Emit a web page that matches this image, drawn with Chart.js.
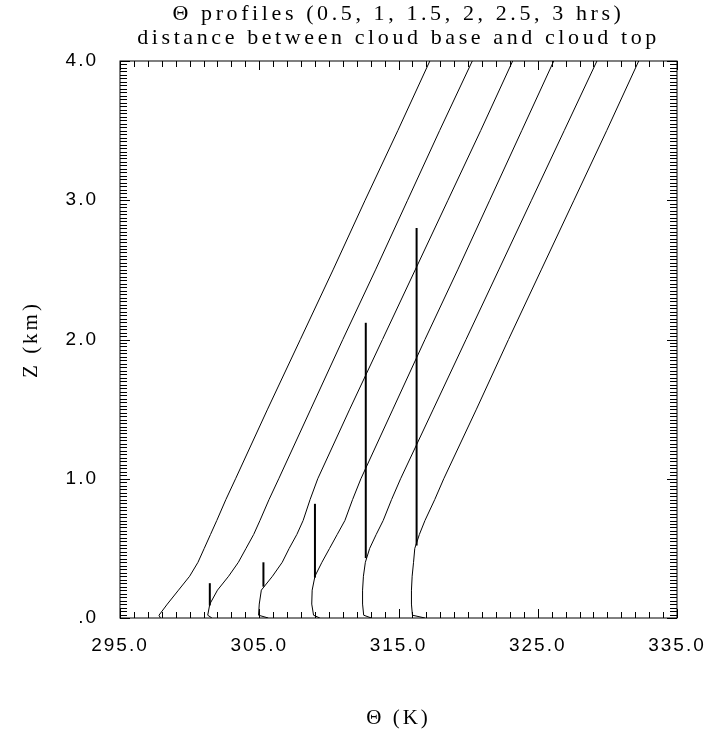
<!DOCTYPE html>
<html>
<head>
<meta charset="utf-8">
<script src="https://cdn.jsdelivr.net/npm/chart.js@4.4.1/dist/chart.umd.min.js"></script>
<style>
  html, body { margin: 0; padding: 0; background: #fff; }
  canvas { display: block; }
</style>
</head>
<body>
<canvas id="thetaChart" width="709" height="733"></canvas>
<script>
// height levels (km) shared by all profiles
var Z_KM = [0, 0.02, 0.1, 0.2, 0.3, 0.4, 0.5, 0.6, 0.7, 0.85, 1.0, 1.5, 2.0, 2.5, 3.0, 3.5, 4.0];

// potential temperature (K) at each level, one array per output time
var THETA_05H = [297.9, 297.8, 298.4, 299.2, 300.0, 300.6, 301.05, 301.5, 301.95, 302.6, 303.3, 305.6, 307.95, 310.3, 312.6, 314.95, 317.25];
var THETA_10H = [301.6, 301.3, 301.45, 302.0, 302.8, 303.5, 304.05, 304.6, 305.05, 305.7, 306.4, 308.7, 311.0, 313.35, 315.65, 317.95, 320.3];
var THETA_15H = [305.65, 304.95, 305.0, 305.15, 305.95, 306.65, 307.15, 307.7, 308.15, 308.65, 309.2, 311.5, 313.85, 316.2, 318.55, 320.9, 323.2];
var THETA_20H = [309.35, 308.9, 308.77, 308.8, 309.0, 309.5, 310.05, 310.6, 311.15, 311.7, 312.3, 314.6, 316.9, 319.25, 321.55, 323.85, 326.15];
var THETA_25H = [313.05, 312.5, 312.42, 312.42, 312.48, 312.62, 312.93, 313.4, 313.9, 314.5, 315.15, 317.5, 319.85, 322.2, 324.55, 326.9, 329.25];
var THETA_30H = [316.9, 316.0, 315.93, 315.93, 315.98, 316.08, 316.17, 316.5, 316.9, 317.6, 318.25, 320.6, 322.9, 325.25, 327.6, 329.95, 332.25];

var PROFILES = [THETA_05H, THETA_10H, THETA_15H, THETA_20H, THETA_25H, THETA_30H];

// cloud base / cloud top bars (1, 1.5, 2, 2.5, 3 hrs)
var CLOUD_THETA = [301.45, 305.3, 309.0, 312.65, 316.3];
var CLOUD_BASE = [0.09, 0.225, 0.29, 0.43, 0.52];
var CLOUD_TOP = [0.25, 0.40, 0.82, 2.12, 2.80];

var TITLE_1 = "\u0398 profiles (0.5, 1, 1.5, 2, 2.5, 3 hrs)";
var TITLE_2 = "distance between cloud base and cloud top";
var X_TITLE = "\u0398 (K)";
var Y_TITLE = "Z (km)";

var X_MIN = 295, X_MAX = 335, X_LABEL_STEP = 10, X_MINOR = 1;
var Y_MIN = 0, Y_MAX = 4, Y_LABEL_STEP = 1, Y_MINOR = 0.025;

function profilePoints(theta) {
    return theta.map(function (t, i) { return { x: t, y: Z_KM[i] }; });
}

var datasets = [];
for (const theta of PROFILES) {
    datasets.push({
        data: profilePoints(theta),
        borderColor: "#000",
        borderWidth: 1,
        pointRadius: 0,
        showLine: true,
        tension: 0,
    });
}
for (const [i, t] of CLOUD_THETA.entries()) {
    datasets.push({
        data: [{ x: t, y: CLOUD_BASE[i] }, { x: t, y: CLOUD_TOP[i] }],
        borderColor: "#000",
        borderWidth: 2,
        pointRadius: 0,
        showLine: true,
    });
}

// frame with inward ticks on all four sides, plus titles
const framePlugin = {
    id: "frame",
    beforeDraw(chart) {
        chart.ctx.letterSpacing = "2px";
    },
    afterDraw(chart) {
        const ctx = chart.ctx;
        const a = chart.chartArea;
        const sx = chart.scales.x, sy = chart.scales.y;
        ctx.save();
        ctx.letterSpacing = "0px";
        ctx.strokeStyle = "#000";
        ctx.lineWidth = 1;
        ctx.beginPath();
        for (let v = X_MIN; v <= X_MAX + 1e-9; v += X_MINOR) {
            const px = Math.round(sx.getPixelForValue(v)) + 0.5;
            const len = (Math.abs((v - X_MIN) % X_LABEL_STEP) < 1e-6) ? 9 : 6;
            ctx.moveTo(px, a.bottom); ctx.lineTo(px, a.bottom - len);
            ctx.moveTo(px, a.top); ctx.lineTo(px, a.top + len);
        }
        const n = Math.round((Y_MAX - Y_MIN) / Y_MINOR);
        for (let k = 0; k <= n; k++) {
            const v = Y_MIN + k * Y_MINOR;
            const py = Math.round(sy.getPixelForValue(v)) + 0.5;
            const len = (k % Math.round(Y_LABEL_STEP / Y_MINOR) === 0) ? 10 : 7;
            ctx.moveTo(a.left, py); ctx.lineTo(a.left + len, py);
            ctx.moveTo(a.right, py); ctx.lineTo(a.right - len, py);
        }
        ctx.stroke();
        ctx.strokeRect(a.left, a.top, a.right - a.left, a.bottom - a.top);

        ctx.fillStyle = "#000";
        ctx.font = '22px "Liberation Serif"';
        ctx.letterSpacing = "3.6px";
        ctx.textAlign = "center";
        ctx.textBaseline = "alphabetic";
        const cx = (a.left + a.right) / 2;
        ctx.fillText(TITLE_1, cx, 20);
        ctx.fillText(TITLE_2, cx, 44);
        ctx.font = '21px "Liberation Serif"';
        ctx.letterSpacing = "3px";
        ctx.fillText(X_TITLE, cx, 724);
        ctx.translate(31, (a.top + a.bottom) / 2);
        ctx.rotate(-Math.PI / 2);
        ctx.textBaseline = "middle";
        ctx.fillText(Y_TITLE, 0, 0);
        ctx.restore();
    },
};

const tickFont = { family: '"Liberation Sans"', size: 19 };

const config = {
    type: "scatter",
    data: { datasets: datasets },
    options: {
        animation: false,
        responsive: false,
        layout: { padding: { left: 0, right: 32, top: 61, bottom: 0 } },
        plugins: {
            legend: { display: false },
            tooltip: { enabled: false },
            title: { display: false },
        },
        scales: {
            x: {
                type: "linear",
                min: X_MIN,
                max: X_MAX,
                afterFit: function (scale) {
                    scale.height = 115;
                    scale.paddingLeft = 0;
                    scale.paddingRight = 0;
                },
                grid: { display: false, drawTicks: false },
                border: { display: false },
                ticks: {
                    stepSize: X_LABEL_STEP,
                    color: "#000",
                    font: tickFont,
                    padding: 16,
                    maxRotation: 0,
                    callback: function (value) { return value.toFixed(1); },
                },
            },
            y: {
                type: "linear",
                min: Y_MIN,
                max: Y_MAX,
                afterFit: function (scale) {
                    scale.width = 120;
                    scale.paddingTop = 0;
                    scale.paddingBottom = 0;
                },
                grid: { display: false, drawTicks: false },
                border: { display: false },
                ticks: {
                    stepSize: Y_LABEL_STEP,
                    color: "#000",
                    font: tickFont,
                    padding: 22,
                    callback: function (value) {
                        return value === 0 ? ".0" : value.toFixed(1);
                    },
                },
            },
        },
    },
    plugins: [framePlugin],
};

new Chart(document.getElementById("thetaChart"), config);
</script>
</body>
</html>
